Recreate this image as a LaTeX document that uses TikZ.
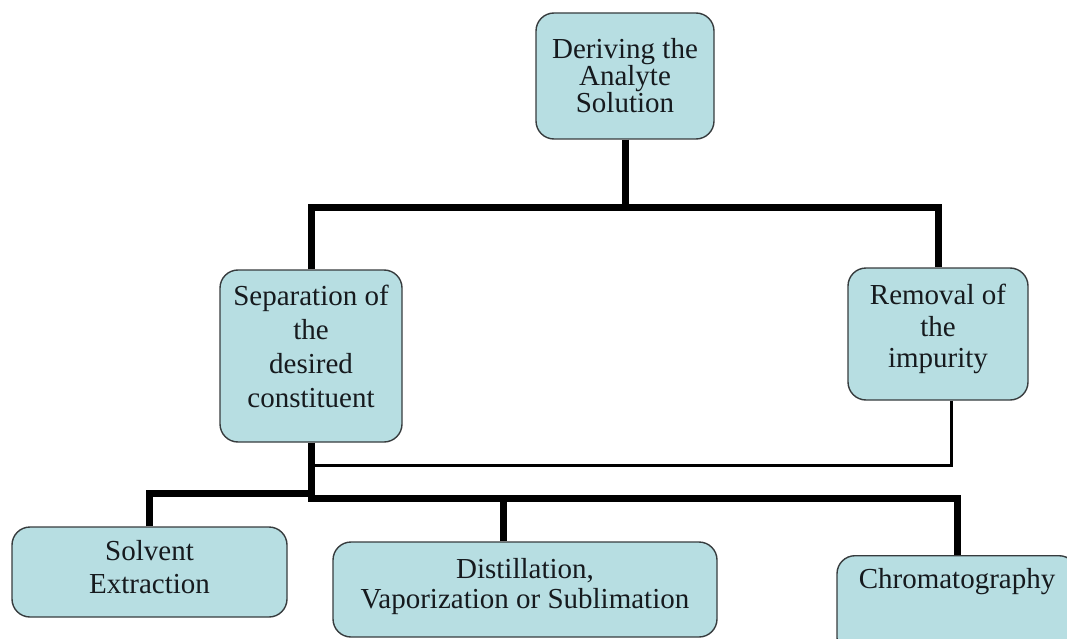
\documentclass[tikz,border=0pt]{standalone}
\usepackage{fontspec}
\setmainfont{Liberation Serif}
\definecolor{boxfill}{RGB}{183,222,226}
\definecolor{boxline}{RGB}{55,60,62}
\definecolor{textcol}{RGB}{22,26,30}
% invisible strut that deepens the last line of a box label
\newcommand{\lowpad}[1]{\rule[-#1]{0pt}{#1}}
\begin{document}
\begin{tikzpicture}[x=1pt,y=-1pt,
  box/.style={draw=boxline, fill=boxfill, line width=1.4pt, rounded corners=18pt,
    align=center, inner sep=0pt, text=textcol, font=\fontsize{29}{27}\selectfont},
  trunk/.style={line width=7pt, draw=black},
  link/.style={line width=3pt, draw=black}]
\useasboundingbox (0,0) rectangle (1067,639);
\clip (0,0) rectangle (1067,639);

% boxes
\node[box, minimum width=178pt, minimum height=126pt] (derive) at (625,76)
  {Deriving the\\Analyte\\Solution};
\node[box, minimum width=182pt, minimum height=172pt,
  font=\fontsize{29}{34}\selectfont] (sep) at (311,356)
  {Separation of\\the\\desired\\constituent\lowpad{20pt}};
\node[box, minimum width=180pt, minimum height=132pt,
  font=\fontsize{29}{31.5}\selectfont] (rem) at (938,334)
  {Removal of\\the\\impurity\lowpad{16pt}};
\node[box, minimum width=275pt, minimum height=90pt,
  font=\fontsize{29}{33}\selectfont] (solv) at (149.5,572)
  {Solvent\\Extraction\lowpad{10pt}};
\node[box, minimum width=384pt, minimum height=95pt,
  font=\fontsize{29}{30}\selectfont] (dist) at (525,589.5)
  {Distillation,\\Vaporization or Sublimation\lowpad{12pt}};
\node[box, anchor=north, minimum width=240pt, minimum height=100pt,
  text height=19pt, text depth=53pt] (chrom) at (957,555)
  {Chromatography};

% junction points of the bus lines
\coordinate (topbus) at (625,207);
\coordinate (lowbus) at (311,498);
\coordinate (stepbus) at (311,493);
\coordinate (sidebus) at (311,465);

% connectors
\draw[trunk] (derive.south) -- (topbus);
\draw[trunk] (sep.north) |- (topbus) -| (rem.north);
\draw[trunk] (sep.south) -- (lowbus) -| (chrom.north);
\draw[trunk] ([xshift=-22pt]dist.north) -- ([xshift=-22pt]dist.north |- lowbus);
\draw[trunk] (solv.north) |- (stepbus);
\draw[link] ([xshift=13pt]rem.south) |- (sidebus);
\end{tikzpicture}
\end{document}
